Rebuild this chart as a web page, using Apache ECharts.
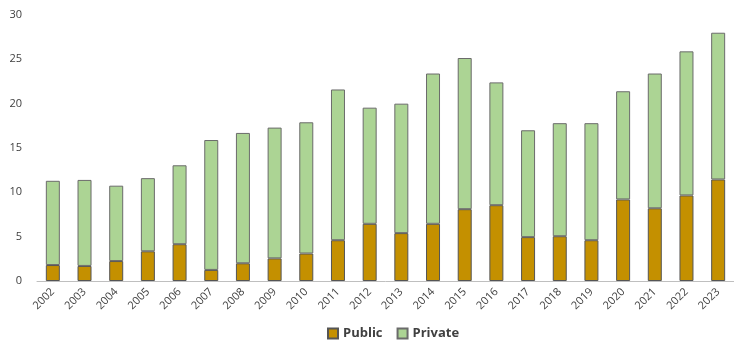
<!DOCTYPE html>
<html>
<head>
<meta charset="utf-8">
<script src="https://cdn.jsdelivr.net/npm/echarts@6/dist/echarts.min.js"></script>
<style>
  html, body { margin: 0; padding: 0; background: #fff; }
  #chart { width: 734px; height: 345px; }
</style>
</head>
<body>
<div id="chart"></div>
<script>
const years = ['2002', '2003', '2004', '2005', '2006', '2007', '2008', '2009', '2010', '2011', '2012',
  '2013', '2014', '2015', '2016', '2017', '2018', '2019', '2020', '2021', '2022', '2023']
const publicVals = [1.8, 1.7, 2.25, 3.35, 4.15, 1.25, 2.0, 2.55, 3.1, 4.6, 6.45,
  5.4, 6.45, 8.1, 8.55, 4.95, 5.05, 4.6, 9.2, 8.2, 9.65, 11.45]
const privateVals = [9.5, 9.7, 8.5, 8.25, 8.9, 14.65, 14.7, 14.75, 14.8, 17.0, 13.1,
  14.6, 16.95, 17.05, 13.85, 12.05, 12.75, 13.2, 12.2, 15.2, 16.25, 16.55]
const yTicks = [0, 5, 10, 15, 20, 25, 30]

const chart = echarts.init(document.getElementById('chart'))

let option = {
  animation: false,
  textStyle: { fontFamily: '"Open Sans", sans-serif' },
  grid: { left: 37, right: -9, top: 15, bottom: 64 },
  legend: {
    top: 327,
    left: 327,
    padding: 0,
    icon: 'rect',
    itemWidth: 10,
    itemHeight: 10,
    itemGap: 14,
    textStyle: { fontSize: 13, fontWeight: 'bold', color: '#404040' },
    data: ['Public', 'Private']
  },
  xAxis: {
    type: 'category',
    data: years,
    axisLine: { lineStyle: { color: '#bfbfbf' } },
    axisTick: { show: false },
    axisLabel: { rotate: 45, fontSize: 11, color: '#404040', margin: 9, interval: 0 }
  },
  yAxis: {
    type: 'value',
    min: yTicks[0],
    max: yTicks[yTicks.length - 1],
    interval: 5,
    splitLine: { show: false },
    axisLine: { show: false },
    axisTick: { show: false },
    axisLabel: { fontSize: 11, color: '#404040', margin: 15 }
  },
  series: [
    {
      name: 'Public',
      type: 'bar',
      stack: 'total',
      barWidth: 14,
      data: publicVals,
      itemStyle: { color: '#c49000', borderColor: '#555', borderWidth: 1 }
    },
    {
      name: 'Private',
      type: 'bar',
      stack: 'total',
      barWidth: 14,
      data: privateVals,
      itemStyle: { color: '#acd494', borderColor: '#6b6b6b', borderWidth: 1 }
    }
  ]
}

chart.setOption(option)
</script>
</body>
</html>
